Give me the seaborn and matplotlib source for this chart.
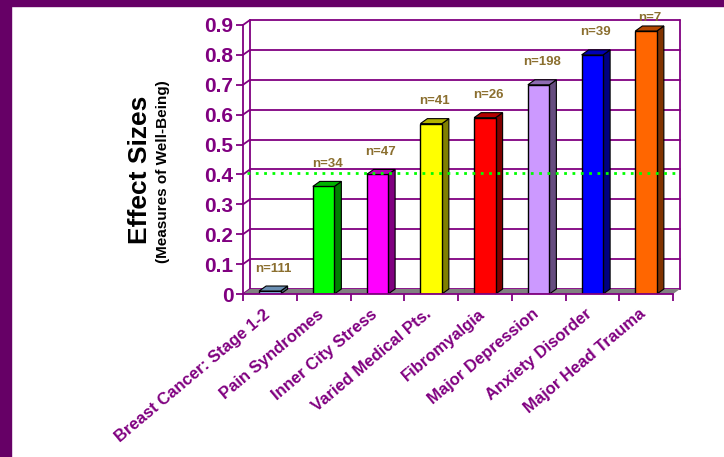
import matplotlib.pyplot as plt
import seaborn as sns
from matplotlib.patches import Polygon, Rectangle
from matplotlib.colors import to_rgb
from matplotlib.transforms import offset_copy

# dados do grafico
categorias = ['Breast Cancer: Stage 1-2', 'Pain Syndromes', 'Inner City Stress',
              'Varied Medical Pts.', 'Fibromyalgia', 'Major Depression',
              'Anxiety Disorder', 'Major Head Trauma']
efeitos = [0.01, 0.36, 0.40, 0.57, 0.59, 0.70, 0.80, 0.88]
n_amostras = [111, 34, 47, 41, 26, 198, 39, 7]
cores = ['#99CCFF', '#00FF00', '#FF00FF', '#FFFF00', '#FF0000', '#CC99FF', '#0000FF', '#FF6600']
y_ticks = [0.0, 0.1, 0.2, 0.3, 0.4, 0.5, 0.6, 0.7, 0.8, 0.9]
y_tick_labels = ['0', '0.1', '0.2', '0.3', '0.4', '0.5', '0.6', '0.7', '0.8', '0.9']
linha_ref = 0.4

ROXO = '#800080'
sns.set_style('white')
plt.rcParams['font.family'] = ['Liberation Sans', 'DejaVu Sans']

fig = plt.figure(figsize=(7.24, 4.57), dpi=100)
ax = fig.add_axes([243 / 724, 163 / 457, 430 / 724, 269 / 457])
ax.set_facecolor('none')

sns.barplot(x=categorias, y=efeitos, hue=categorias, palette=cores, width=0.4,
            saturation=1, legend=False, edgecolor='black', linewidth=1, ax=ax, zorder=4)
barras = list(ax.patches)

ax.set_xlim(-0.5, len(categorias) - 0.5)
ax.set_ylim(0, 0.9)
x0, x1 = ax.get_xlim()
dx, dy = 0.13, 0.0167  # profundidade 3D

# chao cinza
ax.add_patch(Polygon([(x0, 0), (x1, 0), (x1 + dx, dy), (x0 + dx, dy)],
                     closed=True, facecolor='#808080', edgecolor='none', zorder=2, clip_on=False))

# parede do fundo
for t in y_ticks:
    ax.plot([x0 + dx, x1 + dx], [t + dy, t + dy], color=ROXO, lw=1.3, zorder=1, clip_on=False)
    ax.plot([x0, x0 + dx], [t, t + dy], color=ROXO, lw=1.3, zorder=1, clip_on=False)
ax.plot([x0 + dx, x0 + dx], [dy, 0.9 + dy], color=ROXO, lw=1.3, zorder=1, clip_on=False)
ax.plot([x1 + dx, x1 + dx], [dy, 0.9 + dy], color=ROXO, lw=1.3, zorder=1, clip_on=False)

# faces laterais e de cima
for b, c in zip(barras, cores):
    rgb = to_rgb(c)
    lado = tuple(v * 0.5 for v in rgb)
    topo = tuple(v * 0.7 for v in rgb)
    bx, bw, bh = b.get_x(), b.get_width(), b.get_height()
    ax.add_patch(Polygon([(bx + bw, 0), (bx + bw + dx, dy), (bx + bw + dx, bh + dy), (bx + bw, bh)],
                         closed=True, facecolor=lado, edgecolor='black', lw=0.8, zorder=3, clip_on=False))
    ax.add_patch(Polygon([(bx, bh), (bx + dx, bh + dy), (bx + bw + dx, bh + dy), (bx + bw, bh)],
                         closed=True, facecolor=topo, edgecolor='black', lw=0.8, zorder=5, clip_on=False))

# linha pontilhada verde
ax.plot([x0 + 0.07, x1 + 0.07], [linha_ref + 0.004, linha_ref + 0.004], color='#00FF00',
        lw=2, ls=(0, (1, 2)), zorder=6, clip_on=False)

# rotulos n=
for i, (v, n) in enumerate(zip(efeitos, n_amostras)):
    ax.text(i + dx / 2, min(v + 0.075, 0.925), f'n={n}', ha='center', va='center', color='#8B6F2F',
            fontsize=9.5, fontweight='bold', clip_on=False, zorder=7)

# eixos
sns.despine(ax=ax, top=True, right=True)
for s in ['left', 'bottom']:
    ax.spines[s].set_color(ROXO)
    ax.spines[s].set_linewidth(1.3)
    ax.spines[s].set_zorder(6)
ax.set_yticks(y_ticks)
ax.set_yticklabels(y_tick_labels, fontsize=15, fontweight='bold', color=ROXO)
ax.tick_params(axis='y', length=5, width=1.3, color=ROXO, pad=2, left=True)
ax.set_xticks(range(len(categorias)))
ax.set_xticklabels(categorias, rotation=40, ha='right', rotation_mode='anchor',
                   fontsize=12, fontweight='bold', color=ROXO)
ax.tick_params(axis='x', length=0, pad=9)
for lbl in ax.get_xticklabels():
    lbl.set_transform(offset_copy(lbl.get_transform(), fig=fig, x=-7, y=0, units='dots'))
ax.set_xticks([i - 0.5 for i in range(len(categorias) + 1)], minor=True)
ax.tick_params(axis='x', which='minor', length=5, width=1.3, color=ROXO, bottom=True)
ax.set_xlabel('')
ax.set_ylabel('')
ax.grid(False)

fig.text(140 / 724, 1 - 170 / 457, 'Effect Sizes', rotation=90, ha='center', va='center',
         fontsize=19, fontweight='bold', color='black')
fig.text(163 / 724, 1 - 172 / 457, '(Measures of Well-Being)', rotation=90, ha='center', va='center',
         fontsize=11, fontweight='bold', color='black')

# moldura roxa
fig.add_artist(Rectangle((0, 0), 11 / 724, 1, transform=fig.transFigure, color='#660066', zorder=10))
fig.add_artist(Rectangle((0, 1 - 6 / 457), 1, 6 / 457, transform=fig.transFigure, color='#660066', zorder=10))

fig.savefig('out.png', dpi=100, facecolor='white')
